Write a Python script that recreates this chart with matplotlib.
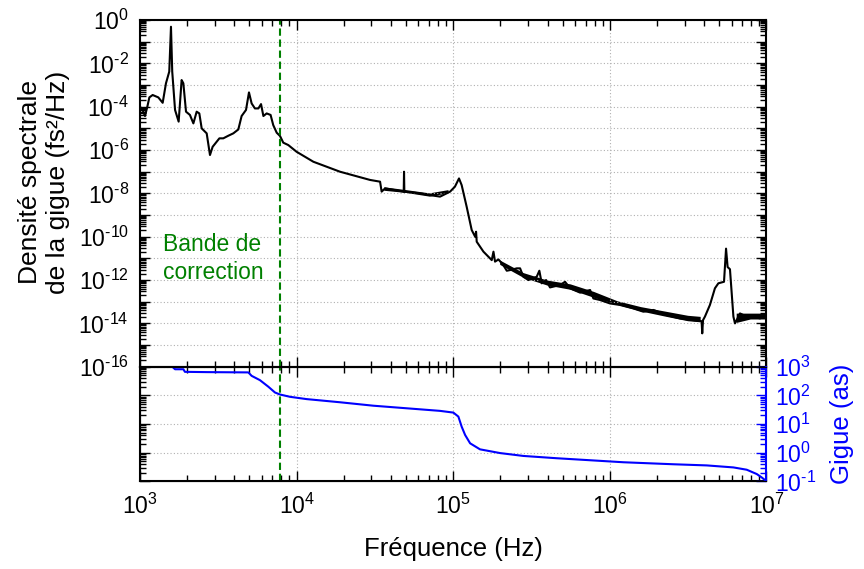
import numpy as np
import matplotlib
matplotlib.use('Agg')
import matplotlib.pyplot as plt
from matplotlib.ticker import LogLocator, FuncFormatter, NullFormatter

plt.rcParams['font.family'] = ['Liberation Sans', 'DejaVu Sans']
plt.rcParams['mathtext.fontset'] = 'custom'
plt.rcParams['mathtext.rm'] = 'Liberation Sans'
plt.rcParams['mathtext.it'] = 'Liberation Sans:italic'
plt.rcParams['mathtext.bf'] = 'Liberation Sans:bold'

# densite spectrale de la gigue (log10 f, log10 S)
psd_logf = [3.000, 3.017, 3.032, 3.047, 3.060, 3.081, 3.117, 3.145, 3.166, 3.187,
            3.198, 3.206, 3.224, 3.247, 3.266, 3.277, 3.294, 3.319, 3.341, 3.362,
            3.379, 3.394, 3.426, 3.447, 3.464, 3.507, 3.532, 3.564, 3.596, 3.628,
            3.649, 3.677, 3.696, 3.713, 3.734, 3.756, 3.773, 3.788, 3.809, 3.834,
            3.851, 3.873, 3.894, 3.915, 3.947, 4.000, 4.107, 4.277, 4.469, 4.533,
            4.543, 4.565, 4.684, 4.686, 4.688, 4.788, 4.852, 4.916, 4.980, 5.011,
            5.037, 5.054, 5.086, 5.118, 5.140, 5.146, 5.150, 5.193, 5.246, 5.257,
            5.267, 5.289, 5.320, 5.342, 5.363, 5.406, 5.427, 5.448, 5.480, 5.533,
            5.550, 5.565, 5.593, 5.618, 5.682, 5.714, 5.746, 5.810, 5.874, 5.895,
            5.937, 6.001, 6.065, 6.150, 6.214, 6.278, 6.363, 6.448, 6.533, 6.586,
            6.590, 6.595, 6.607, 6.639, 6.671, 6.693, 6.729, 6.742, 6.752, 6.767,
            6.789, 6.799, 6.831, 6.874, 6.916, 6.959, 7.000]
psd_logs = [-4.00, -4.15, -4.43, -4.00, -3.57, -3.46, -3.57, -3.82, -2.92, -2.38,
            -0.31, -2.38, -4.15, -4.69, -2.77, -2.92, -4.23, -4.38, -4.77, -4.23,
            -4.31, -5.00, -5.23, -6.23, -5.85, -5.46, -5.46, -5.34, -5.23, -5.05,
            -4.43, -4.15, -3.34, -3.85, -4.08, -4.08, -3.88, -4.43, -4.31, -4.38,
            -4.85, -5.20, -5.35, -5.66, -5.77, -6.08, -6.54, -7.00, -7.38, -7.46,
            -7.92, -7.77, -7.92, -7.00, -7.92, -8.00, -8.08, -8.15, -7.92, -7.69,
            -7.31, -7.62, -8.62, -9.69, -10.00, -9.77, -10.23, -10.69, -11.08, -10.69,
            -11.15, -11.05, -11.31, -11.57, -11.54, -11.46, -11.46, -11.85, -12.00, -11.85,
            -11.57, -12.15, -12.00, -12.34, -12.23, -12.08, -12.38, -12.58, -12.46, -12.85,
            -12.92, -13.08, -13.15, -13.31, -13.46, -13.38, -13.62, -13.77, -13.85, -13.90,
            -14.46, -13.85, -13.69, -13.15, -12.38, -12.15, -12.08, -10.55, -11.40, -11.50,
            -13.69, -14.00, -13.54, -13.69, -13.69, -13.77, -13.62]

# largeur de la bande de bruit
noise_logf = [4.56, 4.70, 4.85, 4.97, 4.99,
              5.30, 5.45, 5.60, 5.75, 5.90, 6.05, 6.20, 6.35, 6.50, 6.58, 6.60,
              6.80, 6.81, 6.90, 7.00]
noise_lo = [-7.88, -7.98, -8.15, -8.00, np.nan,
            -11.30, -11.90, -12.25, -12.45, -12.82, -13.15, -13.45, -13.68, -13.90, -13.95, np.nan,
            np.nan, -13.98, -13.82, -13.82]
noise_hi = [-7.72, -7.85, -8.00, -7.85, np.nan,
            -11.10, -11.68, -12.02, -12.20, -12.55, -12.98, -13.25, -13.45, -13.65, -13.70, np.nan,
            np.nan, -13.55, -13.55, -13.55]

# gigue integree (log10 f, log10 as)
jit_logf = [3.206, 3.224, 3.277, 3.287, 3.426, 3.692, 3.713, 3.766, 3.820, 3.862,
            3.894, 3.958, 4.064, 4.277, 4.490, 4.703, 4.916, 5.001, 5.033, 5.054,
            5.076, 5.108, 5.171, 5.299, 5.448, 5.661, 5.874, 6.087, 6.406, 6.619,
            6.789, 6.874, 6.938, 6.970, 7.002]
jit_loga = [3.00, 2.91, 2.91, 2.82, 2.81, 2.80, 2.68, 2.53, 2.30, 2.10,
            2.03, 1.95, 1.87, 1.76, 1.64, 1.55, 1.46, 1.40, 1.26, 0.91,
            0.62, 0.33, 0.12, -0.01, -0.11, -0.19, -0.26, -0.33, -0.40, -0.44,
            -0.51, -0.59, -0.74, -0.86, -1.00]

f_corr = 7.8e3

psd_f = 10 ** np.array(psd_logf)
psd = 10 ** np.array(psd_logs)
nf = 10 ** np.array(noise_logf)
nlo = 10 ** np.array(noise_lo)
nhi = 10 ** np.array(noise_hi)
jit_f = 10 ** np.array(jit_logf)
jit = 10 ** np.array(jit_loga)

fig = plt.figure(figsize=(8.64, 5.69), dpi=100)
ax1 = fig.add_axes([0.1620, 0.3555, 0.7251, 0.6093])
ax2 = fig.add_axes([0.1620, 0.1538, 0.7251, 0.2018])


def pow_txt(e):
    # trait d'union court pour l'exposant, comme sur l'original
    s = str(abs(e))
    if e < 0:
        s = r'\text{-}' + s
    return r'$\mathregular{10^{%s}}$' % s


def style_axis(ax):
    ax.set_xscale('log')
    ax.set_yscale('log')
    ax.xaxis.set_major_locator(LogLocator(base=10, numticks=100))
    ax.xaxis.set_minor_locator(LogLocator(base=10, subs=np.arange(2, 10), numticks=100))
    ax.yaxis.set_major_locator(LogLocator(base=10, numticks=100))
    ax.yaxis.set_minor_locator(LogLocator(base=10, subs=np.arange(2, 10), numticks=100))
    ax.xaxis.set_minor_formatter(NullFormatter())
    ax.yaxis.set_minor_formatter(NullFormatter())
    ax.tick_params(which='both', direction='in', top=True, right=True, width=1)
    ax.tick_params(which='major', length=7)
    ax.tick_params(which='minor', length=4)
    for sp in ax.spines.values():
        sp.set_linewidth(1.5)
    ax.grid(True, which='major', color='#b0b0b0', linestyle=(0, (1, 2)), linewidth=0.8)
    ax.set_xlim(1e3, 1e7)


def even_label(v, pos):
    e = int(round(np.log10(v)))
    if e % 2:
        return ''
    return pow_txt(e)


def all_label(v, pos):
    return pow_txt(int(round(np.log10(v))))


style_axis(ax1)
ax1.set_ylim(1e-16, 1)
ax1.yaxis.set_major_formatter(FuncFormatter(even_label))
ax1.tick_params(labelbottom=False, labelsize=16.5, pad=8)
ax1.plot(psd_f, psd, color='black', lw=1.5)
ax1.fill_between(nf, nlo, nhi, color='black', lw=0)
ax1.axvline(f_corr, color='#008000', lw=1.5, dashes=(3.5, 1.8))
ax1.text(0.036, 0.385, 'Bande de\ncorrection', transform=ax1.transAxes, color='#008000',
         fontsize=16.5, va='top', ha='left', linespacing=1.25)
ax1.set_ylabel('Densité spectrale\nde la gigue (fs²/Hz)', fontsize=19, linespacing=1.2)
ax1.yaxis.set_label_coords(-0.112, 0.533)

style_axis(ax2)
ax2.set_ylim(1e-1, 1e3)
ax2.tick_params(labelleft=False, right=False, labelsize=16.5)
ax2.spines['right'].set_visible(False)
ax2.xaxis.set_major_formatter(FuncFormatter(all_label))
ax2.tick_params(axis='x', pad=9)
ax2.axvline(f_corr, color='#008000', lw=1.5, dashes=(3.5, 1.8))
ax2.set_xlabel('Fréquence (Hz)', fontsize=18.5, labelpad=13)

ax2r = ax2.twinx()
ax2r.set_yscale('log')
ax2r.set_ylim(1e-1, 1e3)
ax2r.yaxis.set_major_locator(LogLocator(base=10, numticks=100))
ax2r.yaxis.set_minor_locator(LogLocator(base=10, subs=np.arange(2, 10), numticks=100))
ax2r.yaxis.set_minor_formatter(NullFormatter())
ax2r.yaxis.set_major_formatter(FuncFormatter(all_label))
ax2r.tick_params(which='both', direction='in', colors='blue', width=1, labelsize=16.5, pad=6)
ax2r.tick_params(which='major', length=7)
ax2r.tick_params(which='minor', length=4)
ax2r.spines['right'].set_color('blue')
ax2r.spines['right'].set_linewidth(1.5)
ax2r.plot(jit_f, jit, color='blue', lw=1.5)
ax2r.set_xlim(1e3, 1e7)
ax2r.set_ylabel('Gigue (as)', color='blue', fontsize=18.5, labelpad=10)

fig.savefig('out.png', dpi=100)
